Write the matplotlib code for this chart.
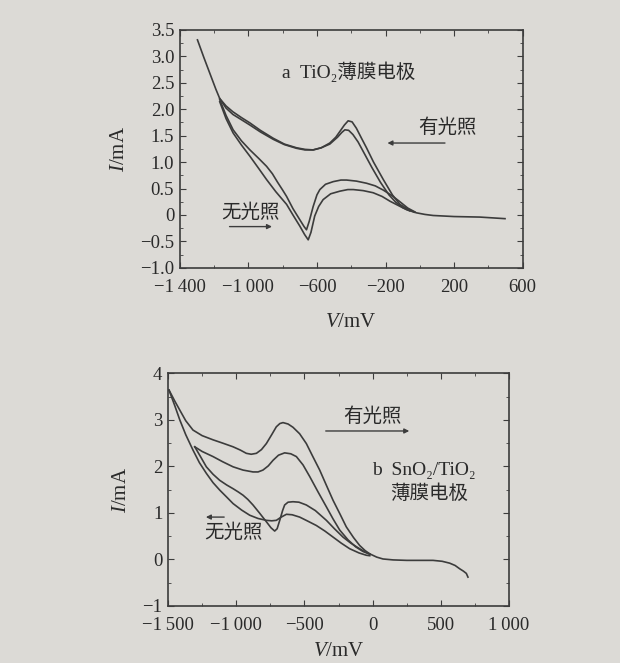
import matplotlib.pyplot as plt
from matplotlib.ticker import MultipleLocator

plt.rcParams['font.family'] = ['Liberation Serif', 'DejaVu Serif', 'Noto Sans CJK SC']
plt.rcParams['mathtext.fontset'] = 'custom'
plt.rcParams['mathtext.rm'] = 'Liberation Serif'
plt.rcParams['mathtext.it'] = 'Liberation Serif:italic'

# ---- a: TiO2 film electrode ----
a_up1_v = [-1297, -1260, -1225, -1190, -1167, -1130, -1090, -1040, -991, -930, -855, -790, -719, -670, -622, -575, -525, -490, -466, -440, -418, -395, -370, -340, -311, -270, -213, -160, -116, -60, -19, 30, 78, 200, 350, 497]
a_up1_i = [3.31, 2.98, 2.68, 2.38, 2.20, 2.06, 1.95, 1.84, 1.74, 1.60, 1.45, 1.34, 1.27, 1.24, 1.23, 1.27, 1.36, 1.47, 1.58, 1.70, 1.78, 1.76, 1.64, 1.45, 1.27, 1.00, 0.67, 0.38, 0.20, 0.09, 0.04, 0.01, -0.01, -0.03, -0.04, -0.07]
a_up2_v = [-1167, -1130, -1090, -1040, -991, -930, -855, -790, -719, -670, -622, -575, -525, -480, -455, -437, -415, -390, -360, -330, -280, -230, -180, -140, -100, -60]
a_up2_i = [2.20, 2.02, 1.90, 1.80, 1.70, 1.57, 1.43, 1.33, 1.26, 1.23, 1.23, 1.27, 1.34, 1.47, 1.56, 1.61, 1.60, 1.52, 1.38, 1.20, 0.90, 0.62, 0.38, 0.24, 0.14, 0.08]
a_dn1_v = [-1167, -1130, -1089, -1040, -991, -940, -894, -860, -830, -800, -777, -740, -700, -675, -661, -645, -622, -600, -583, -550, -505, -460, -427, -370, -311, -260, -213, -160, -116, -70, -30]
a_dn1_i = [2.18, 1.88, 1.61, 1.40, 1.23, 1.07, 0.92, 0.78, 0.62, 0.47, 0.35, 0.12, -0.09, -0.22, -0.28, -0.12, 0.16, 0.38, 0.48, 0.58, 0.63, 0.66, 0.66, 0.64, 0.60, 0.55, 0.47, 0.36, 0.25, 0.13, 0.06]
a_dn2_v = [-1167, -1130, -1089, -1040, -991, -940, -894, -840, -777, -740, -700, -672, -651, -635, -613, -590, -564, -520, -466, -420, -388, -330, -272, -220, -174, -120, -77, -30]
a_dn2_i = [2.14, 1.82, 1.55, 1.32, 1.11, 0.88, 0.67, 0.44, 0.20, 0.00, -0.21, -0.37, -0.47, -0.33, -0.02, 0.16, 0.29, 0.40, 0.45, 0.48, 0.48, 0.46, 0.42, 0.35, 0.26, 0.17, 0.10, 0.05]

# ---- b: SnO2/TiO2 film electrode ----
b_up1_v = [-1493, -1450, -1414, -1370, -1317, -1250, -1170, -1100, -1023, -970, -926, -890, -852, -815, -779, -740, -706, -680, -657, -620, -584, -535, -486, -440, -388, -340, -290, -240, -193, -140, -95, -55, -21, 30, 76, 150, 250, 350, 443, 510, 565, 605, 638, 665, 687, 699]
b_up1_i = [3.64, 3.40, 3.21, 2.98, 2.78, 2.66, 2.57, 2.50, 2.42, 2.35, 2.28, 2.26, 2.28, 2.36, 2.49, 2.68, 2.85, 2.92, 2.94, 2.91, 2.84, 2.70, 2.49, 2.22, 1.92, 1.60, 1.27, 0.98, 0.70, 0.47, 0.30, 0.19, 0.12, 0.05, 0.01, -0.01, -0.02, -0.02, -0.02, -0.04, -0.08, -0.13, -0.20, -0.25, -0.30, -0.38]
b_up2_v = [-1304, -1250, -1170, -1100, -1023, -950, -877, -840, -804, -765, -730, -690, -645, -600, -559, -510, -461, -400, -339, -290, -241, -180, -124, -70, -21]
b_up2_i = [2.42, 2.32, 2.21, 2.10, 1.99, 1.92, 1.88, 1.88, 1.92, 2.01, 2.13, 2.24, 2.29, 2.27, 2.21, 2.03, 1.78, 1.45, 1.13, 0.87, 0.63, 0.42, 0.27, 0.17, 0.12]
b_dn1_v = [-1493, -1450, -1414, -1370, -1317, -1270, -1219, -1170, -1121, -1070, -1023, -960, -901, -840, -779, -740, -706, -670, -632, -590, -535, -480, -413, -350, -290, -230, -168, -100, -46, -21]
b_dn1_i = [3.64, 3.30, 3.00, 2.68, 2.35, 2.08, 1.85, 1.65, 1.49, 1.34, 1.20, 1.06, 0.95, 0.88, 0.84, 0.83, 0.84, 0.91, 0.97, 0.96, 0.91, 0.83, 0.73, 0.61, 0.48, 0.35, 0.23, 0.14, 0.09, 0.08]
b_dn2_v = [-1304, -1260, -1219, -1170, -1121, -1070, -1023, -985, -950, -915, -877, -830, -779, -745, -718, -700, -681, -660, -645, -620, -584, -540, -486, -420, -339, -280, -217, -160, -95, -50, -21]
b_dn2_i = [2.42, 2.20, 1.99, 1.83, 1.70, 1.60, 1.52, 1.45, 1.38, 1.29, 1.17, 1.00, 0.81, 0.68, 0.61, 0.66, 0.84, 1.05, 1.17, 1.23, 1.24, 1.23, 1.17, 1.05, 0.84, 0.66, 0.48, 0.35, 0.23, 0.15, 0.11]

a_xticks = [-1400, -1000, -600, -200, 200, 600]
a_xlabels = ['\u22121\u2009400', '\u22121\u2009000', '\u2212600', '\u2212200', '200', '600']
a_yticks = [3.5, 3.0, 2.5, 2.0, 1.5, 1.0, 0.5, 0, -0.5, -1.0]
a_ylabels = ['3.5', '3.0', '2.5', '2.0', '1.5', '1.0', '0.5', '0', '\u22120.5', '\u22121.0']
b_xticks = [-1500, -1000, -500, 0, 500, 1000]
b_xlabels = ['\u22121\u2009500', '\u22121\u2009000', '\u2212500', '0', '500', '1\u2009000']
b_yticks = [4, 3, 2, 1, 0, -1]
b_ylabels = ['4', '3', '2', '1', '0', '\u22121']

bg = '#dcdad6'
ink = '#3c3c3c'

fig = plt.figure(figsize=(6.2, 6.63), dpi=100, facecolor=bg)
ax1 = fig.add_axes([0.290, 0.596, 0.553, 0.359], facecolor=bg)
ax2 = fig.add_axes([0.271, 0.086, 0.550, 0.351], facecolor=bg)

for v, i in [(a_up1_v, a_up1_i), (a_up2_v, a_up2_i), (a_dn1_v, a_dn1_i), (a_dn2_v, a_dn2_i)]:
    ax1.plot(v, i, color=ink, lw=1.2)
for v, i in [(b_up1_v, b_up1_i), (b_up2_v, b_up2_i), (b_dn1_v, b_dn1_i), (b_dn2_v, b_dn2_i)]:
    ax2.plot(v, i, color=ink, lw=1.2)

ax1.set_xlim(-1400, 600)
ax1.set_ylim(-1.0, 3.5)
ax1.set_xticks(a_xticks, a_xlabels)
ax1.set_yticks(a_yticks, a_ylabels)
ax1.xaxis.set_minor_locator(MultipleLocator(200))
ax1.yaxis.set_minor_locator(MultipleLocator(0.25))

ax2.set_xlim(-1500, 1000)
ax2.set_ylim(-1, 4)
ax2.set_xticks(b_xticks, b_xlabels)
ax2.set_yticks(b_yticks, b_ylabels)
ax2.xaxis.set_minor_locator(MultipleLocator(250))
ax2.yaxis.set_minor_locator(MultipleLocator(0.5))

for ax, lp in ((ax1, 12), (ax2, 6)):
    ax.tick_params(which='both', direction='in', top=True, right=True, colors=ink, labelcolor='#2a2a2a')
    ax.tick_params(which='major', length=4, labelsize=13.5)
    ax.tick_params(axis='x', which='major', pad=8)
    ax.tick_params(axis='y', which='major', pad=4)
    ax.tick_params(which='minor', length=2)
    for s in ax.spines.values():
        s.set_color(ink)
        s.set_linewidth(1.2)
    ax.set_xlabel('$V$/mV', fontsize=15, color='#2a2a2a', labelpad=lp)
    ax.set_ylabel('$I$/mA', fontsize=15, color='#2a2a2a', labelpad=8)

txt = dict(color='#2a2a2a', fontsize=14)
ax1.text(-805, 2.71, 'a  TiO\u2082薄膜电极', ha='left', va='center', **txt)
ax1.text(160, 1.65, '有光照', ha='center', va='center', **txt)
ax1.annotate('', xy=(-205, 1.36), xytext=(163, 1.36),
             arrowprops=dict(arrowstyle='-|>', color=ink, lw=1.0, mutation_scale=7))
ax1.text(-990, 0.04, '无光照', ha='center', va='center', **txt)
ax1.annotate('', xy=(-846, -0.22), xytext=(-1126, -0.22),
             arrowprops=dict(arrowstyle='-|>', color=ink, lw=1.0, mutation_scale=7))

ax2.text(-4, 3.06, '有光照', ha='center', va='center', **txt)
ax2.annotate('', xy=(289, 2.76), xytext=(-364, 2.76),
             arrowprops=dict(arrowstyle='-|>', color=ink, lw=1.0, mutation_scale=7))
ax2.text(377, 1.92, 'b  SnO\u2082/TiO\u2082', ha='center', va='center', **txt)
ax2.text(413, 1.42, '薄膜电极', ha='center', va='center', **txt)
ax2.text(-1023, 0.57, '无光照', ha='center', va='center', **txt)
ax2.annotate('', xy=(-1243, 0.91), xytext=(-1068, 0.91),
             arrowprops=dict(arrowstyle='-|>', color=ink, lw=1.0, mutation_scale=7))

fig.savefig('out.png', dpi=100, facecolor=bg)
